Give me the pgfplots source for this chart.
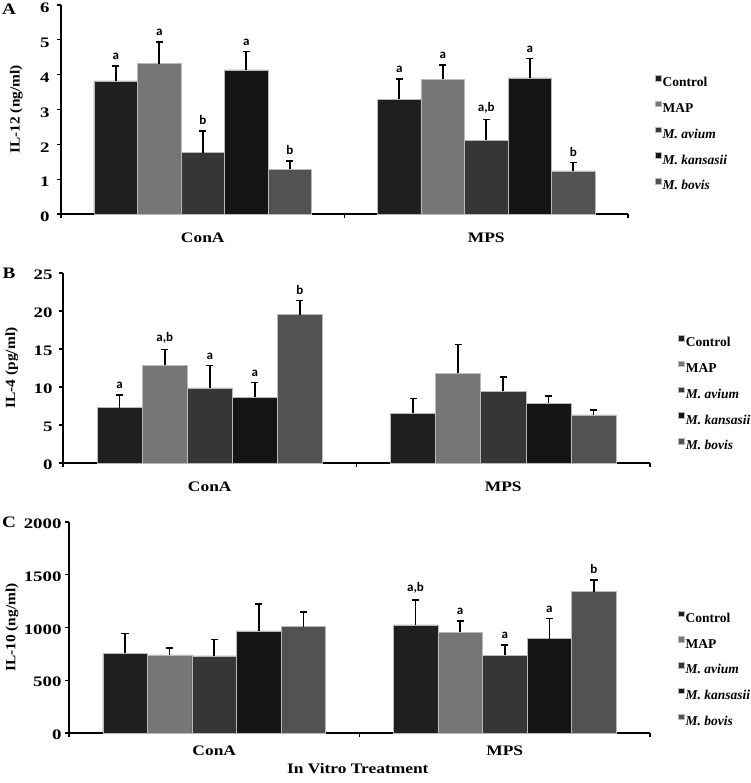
\documentclass[border=0pt]{standalone}
\usepackage{pgfplots}
\pgfplotsset{compat=1.18}
\usepackage{pgfplotstable}
\usepackage{graphicx}
\usepackage{fontspec}
\setmainfont{Liberation Serif}
\newfontfamily\lett{Carlito}
\newcommand{\sx}[1]{\scalebox{1.2}[1]{#1}}
\newcommand{\sxt}[1]{\scalebox{1.3}[1]{#1}}
\newcommand{\sxy}[1]{\scalebox{1.1}[1]{#1}}
\definecolor{cCtrl}{HTML}{1F1F1F}
\definecolor{cMAP}{HTML}{767676}
\definecolor{cAv}{HTML}{363636}
\definecolor{cKa}{HTML}{141414}
\definecolor{cBo}{HTML}{525252}

% rows: Control (ConA, MPS), MAP, M. avium, M. kansasii, M. bovis
% x = group (0 ConA, 1 MPS) + bar offset; y = mean; e = SE; l = letter
\pgfplotstableread{
x y e l
-0.307 3.82 0.43 a
0.693 3.29 0.59 a
-0.1535 4.32 0.62 a
0.8465 3.87 0.40 a
0 1.76 0.63 b
1 2.11 0.60 a,b
0.1535 4.14 0.52 a
1.1535 3.91 0.55 a
0.307 1.29 0.23 b
1.307 1.24 0.24 b
}\tA
\pgfplotstableread{
x y e l
-0.307 7.27 1.67 a
0.693 6.56 1.94 {}
-0.1535 12.86 2.07 a,b
0.8465 11.80 3.80 {}
0 9.87 2.95 a
1 9.47 1.83 {}
0.1535 8.68 1.89 a
1.1535 7.89 0.91 {}
0.307 19.52 1.85 b
1.307 6.34 0.62 {}
}\tB
\pgfplotstableread{
x y e l
-0.307 754 189 {}
0.693 1026 237 a,b
-0.1535 741 63 {}
0.8465 957 104 a
0 732 154 {}
1 736 98 a
0.1535 968 253 {}
1.1535 894 192 a
0.307 1009 136 {}
1.307 1339 113 b
}\tC

\pgfplotsset{
  panel/.style={
    scale only axis, anchor=south west, clip=false,
    xmin=-0.5, xmax=1.5, ymin=0,
    axis x line*=bottom, axis y line*=left,
    axis line style={line width=1.4pt, -},
    xtick={-0.5,0.5,1.5}, xticklabels={},
    extra x ticks={0,1}, extra x tick labels={\sx{ConA},\sx{MPS}},
    tick style={black, line width=1.3pt},
    major tick length=4pt,
    tick align=outside,
    /pgf/number format/assume math mode=true,
    /pgf/number format/1000 sep={},
    yticklabel style={font=\bfseries\fontsize{14.5}{14.5}\selectfont},
    yticklabel={\sxt{\pgfmathprintnumber{\tick}}},
    ylabel style={font=\bfseries\fontsize{14}{14}\selectfont, anchor=center},
    legend style={draw=none, fill=none, anchor=north west,
      font=\bfseries\fontsize{13.5}{13.5}\selectfont, row sep=9.5pt,
      nodes={inner sep=1.5pt, text height=10pt, text depth=3pt}},
    legend cell align=left,
    legend image code/.code={\fill[#1] (0pt,2.5pt) rectangle (5.5pt,8pt);},
  },
  catlab/.style={extra x tick style={major tick length=0pt, xticklabel style={font=\bfseries\fontsize{14.5}{14.5}\selectfont, yshift=#1}}},
  bstyle/.style={ybar, bar width=0.1535, bar shift=0pt, draw=gray!55, line width=0.5pt},
  s1/.style={skip coords between index={2}{10}},
  s2/.style={skip coords between index={0}{2}, skip coords between index={4}{10}},
  s3/.style={skip coords between index={0}{4}, skip coords between index={6}{10}},
  s4/.style={skip coords between index={0}{6}, skip coords between index={8}{10}},
  s5/.style={skip coords between index={0}{8}},
  estyle/.style={draw=none, mark=none, forget plot,
    error bars/y dir=plus, error bars/y explicit,
    error bars/error mark=none,
    error bars/error bar style={draw=black, solid, line width=1.6pt}},
  cstyle/.style={only marks, mark=-, mark size=3.6pt, forget plot,
    mark options={draw=black, solid, line width=1.6pt}},
  lstyle/.style={draw=none, mark=none, forget plot, nodes near coords,
    point meta=explicit symbolic,
    nodes near coords style={font=\lett\bfseries\fontsize{13}{13}\selectfont, anchor=south, inner sep=1pt, yshift=5pt, black}},
}

\newcommand{\panelplots}[1]{%
\addplot[bstyle, fill=cCtrl, s1] table[x=x, y=y] {#1};
\addlegendentry{Control}
\addplot[bstyle, fill=cMAP, s2] table[x=x, y=y] {#1};
\addlegendentry{MAP}
\addplot[bstyle, fill=cAv, s3] table[x=x, y=y] {#1};
\addlegendentry{\textit{M. avium}}
\addplot[bstyle, fill=cKa, s4] table[x=x, y=y] {#1};
\addlegendentry{\textit{M. kansasii}}
\addplot[bstyle, fill=cBo, s5] table[x=x, y=y] {#1};
\addlegendentry{\textit{M. bovis}}
\addplot[estyle] table[x=x, y=y, y error=e] {#1};
\addplot[cstyle] table[x=x, y expr=\thisrow{y}+\thisrow{e}] {#1};
\addplot[lstyle] table[x=x, y expr=\thisrow{y}+\thisrow{e}, meta=l] {#1};
}

\begin{document}
\begin{tikzpicture}[x=1pt,y=1pt]
\useasboundingbox (0,0) rectangle (750,783);
% Panel A
\begin{axis}[panel, catlab=-15pt, at={(61pt,569pt)}, width=567pt, height=209pt,
  ymax=6, ytick={0,1,...,6}, ylabel={\sxy{IL-12 (ng/ml)}},
  ylabel style={at={(axis description cs:-0.079,0.5)}},
  yticklabel style={xshift=-4pt, yshift=-3pt},
  legend style={at={(1.042,0.675)}}]
\panelplots{\tA}
\end{axis}
% Panel B
\begin{axis}[panel, catlab=-15pt, at={(63pt,320pt)}, width=587pt, height=190pt,
  ymax=25, ytick={0,5,...,25}, ylabel={\sxy{IL-4 (pg/ml)}},
  ylabel style={at={(axis description cs:-0.087,0.5)}},
  yticklabel style={xshift=-3pt, yshift=-2pt},
  legend style={at={(1.043,0.685)}}]
\panelplots{\tB}
\end{axis}
% Panel C
\begin{axis}[panel, catlab=-9pt, at={(69pt,50pt)}, width=581pt, height=211pt,
  ymax=2000, ytick={0,500,...,2000}, ylabel={\sxy{IL-10 (ng/ml)}},
  ylabel style={at={(axis description cs:-0.098,0.5)}},
  yticklabel style={xshift=0pt, yshift=-2pt},
  xlabel={\sx{In Vitro Treatment}},
  xlabel style={font=\bfseries\fontsize{14.5}{14.5}\selectfont, at={(axis description cs:0.497,-0.17)}, anchor=center},
  legend style={at={(1.043,0.59)}}]
\panelplots{\tC}
\end{axis}
\node[font=\bfseries\fontsize{16}{16}\selectfont] at (9pt,774pt) {\sx{A}};
\node[font=\bfseries\fontsize{16}{16}\selectfont] at (9pt,510pt) {\sx{B}};
\node[font=\bfseries\fontsize{16}{16}\selectfont] at (9pt,261pt) {\sx{C}};
\end{tikzpicture}
\end{document}
